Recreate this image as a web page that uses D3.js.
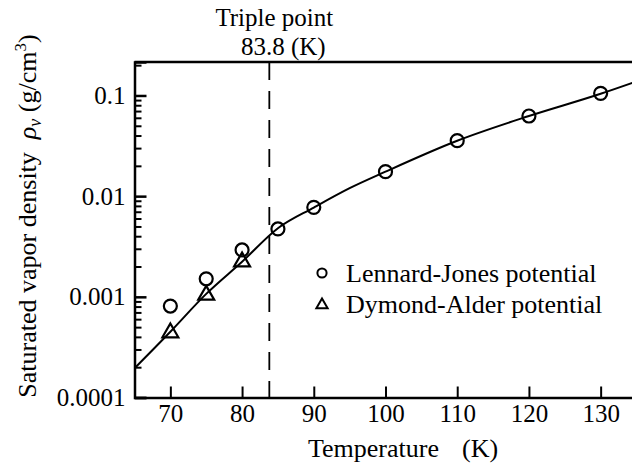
<html>
<head>
<meta http-equiv="Content-Type" content="text/html; charset=UTF-8" />
<script src="https://cdnjs.cloudflare.com/ajax/libs/d3/7.8.5/d3.min.js"></script>
<style type="text/css">
    body { margin: 0; background: #fff; }
    svg { display: block; }
</style>
</head>
<body>
<svg id="chart" width="632" height="463" font-family="Liberation Serif"></svg>
<script>

// values
var ljTemps = [70, 75, 80, 85, 90, 100, 110, 120, 130];
var ljRho   = [0.00081, 0.00151, 0.00292, 0.00472, 0.00774, 0.0175, 0.0356, 0.0625, 0.105];

var daTemps = [70, 75, 80];
var daRho   = [0.00044, 0.00104, 0.00223];

var curveTemps = [65, 70, 75, 80, 85, 90, 95, 100, 110, 120, 130, 135];
var curveRho   = [0.000195, 0.00045, 0.00107, 0.00223, 0.0048, 0.0077, 0.0120, 0.0175, 0.0355, 0.0625, 0.104, 0.138];

var xTicks = [70, 80, 90, 100, 110, 120, 130];
var yTicks = [0.0001, 0.001, 0.01, 0.1];
var yTickLabels = ["0.0001", "0.001", "0.01", "0.1"];

var triplePoint = 83.8;
var legendNames = ["Lennard-Jones potential", "Dymond-Alder potential"];

var width = 632, height = 463;
var serif = "font-family:'Liberation Serif';";

var svg = d3.select("#chart");

var x = d3.scaleLinear().domain([65, 135]).range([134.5, 636.5]);
var y = d3.scaleLog().domain([0.0001, 0.215]).range([397.5, 62]);

function styleTicks(g, size) {
    g.attr("font-family", "Liberation Serif").attr("font-size", size);
    g.selectAll("text").attr("fill", "#000").attr("style", serif + "font-size:" + size + "px");
}

// minor ticks for log axis
var yMinor = [];
yTicks.forEach(function(t) {
    for (var m = 2; m <= 9; m++) {
        var v = t * m;
        if (v < y.domain()[1]) yMinor.push(v);
    }
});

svg.append("g")
    .attr("transform", "translate(" + x.range()[0] + ",0)")
    .call(d3.axisLeft(y).tickValues(yMinor).tickSize(-7).tickFormat(""))
    .call(function(g) { g.selectAll("line").attr("stroke-width", 2); g.select(".domain").remove(); });

svg.append("g")
    .attr("transform", "translate(" + x.range()[0] + ",0)")
    .call(d3.axisLeft(y).tickValues(yTicks).tickSize(-12).tickPadding(9)
        .tickFormat(function(d, i) { return yTickLabels[i]; }))
    .call(function(g) {
        g.selectAll("line").attr("stroke-width", 2.5);
        g.select(".domain").attr("stroke-width", 2.5);
        styleTicks(g, 25);
    });

svg.append("g")
    .attr("transform", "translate(0," + y.range()[0] + ")")
    .call(d3.axisBottom(x).tickValues(xTicks).tickSize(-11).tickPadding(7).tickSizeOuter(0))
    .call(function(g) {
        g.selectAll("line").attr("stroke-width", 2);
        g.select(".domain").attr("stroke-width", 2.5);
        styleTicks(g, 25);
    });

// top frame line
svg.append("line")
    .attr("x1", x.range()[0]).attr("x2", width)
    .attr("y1", y.range()[1]).attr("y2", y.range()[1])
    .attr("stroke", "#000").attr("stroke-width", 2.5);

// triple point marker
svg.append("line")
    .attr("x1", x(triplePoint)).attr("x2", x(triplePoint))
    .attr("y1", y.range()[1]).attr("y2", y.range()[0])
    .attr("stroke", "#000").attr("stroke-width", 1.8)
    .attr("stroke-dasharray", "18,11");

svg.append("text")
    .attr("x", x(triplePoint) + 5).attr("y", 26)
    .attr("text-anchor", "middle")
    .attr("style", serif + "font-size:25px")
    .text("Triple point");

svg.append("text")
    .attr("x", x(triplePoint) + 14).attr("y", 55)
    .attr("text-anchor", "middle")
    .attr("style", serif + "font-size:25px")
    .text(triplePoint + " (K)");

// fitted curve
var line = d3.line()
    .x(function(d, i) { return x(curveTemps[i]); })
    .y(function(d) { return y(d); })
    .curve(d3.curveMonotoneX);

svg.append("path")
    .datum(curveRho)
    .attr("d", line)
    .attr("fill", "none")
    .attr("stroke", "#000")
    .attr("stroke-width", 2);

// Lennard-Jones circles
svg.selectAll("circle.lj")
    .data(ljRho)
    .enter().append("circle")
    .attr("class", "lj")
    .attr("cx", function(d, i) { return x(ljTemps[i]); })
    .attr("cy", function(d) { return y(d); })
    .attr("r", 6.5)
    .attr("fill", "none")
    .attr("stroke", "#000")
    .attr("stroke-width", 2.2);

// Dymond-Alder triangles
var tri = d3.symbol().type(d3.symbolTriangle).size(110);

svg.selectAll("path.da")
    .data(daRho)
    .enter().append("path")
    .attr("class", "da")
    .attr("d", tri)
    .attr("transform", function(d, i) { return "translate(" + x(daTemps[i]) + "," + y(d) + ")"; })
    .attr("fill", "none")
    .attr("stroke", "#000")
    .attr("stroke-width", 2.2);

// legend
var legend = svg.append("g").attr("transform", "translate(322,273)");

legend.append("circle")
    .attr("r", 4.6)
    .attr("fill", "none").attr("stroke", "#000").attr("stroke-width", 2);

legend.append("path")
    .attr("d", d3.symbol().type(d3.symbolTriangle).size(55))
    .attr("transform", "translate(0,32)")
    .attr("fill", "none").attr("stroke", "#000").attr("stroke-width", 2);

legend.selectAll("text")
    .data(legendNames)
    .enter().append("text")
    .attr("x", 24)
    .attr("y", function(d, i) { return 9 + i * 31; })
    .attr("style", serif + "font-size:26px")
    .text(function(d) { return d; });

// axis titles
var xt = svg.append("text")
    .attr("x", 308).attr("y", 457)
    .attr("style", serif + "font-size:26px");
xt.append("tspan").text("Temperature");
xt.append("tspan").attr("x", 462).text("(K)");

var yt = svg.append("text")
    .attr("transform", "translate(36,216) rotate(-90)")
    .attr("text-anchor", "middle")
    .attr("style", serif + "font-size:26px");
yt.append("tspan").text("Saturated vapor density\u00A0\u00A0");
yt.append("tspan").attr("style", "font-style:italic").text("\u03C1");
yt.append("tspan").attr("style", "font-style:italic;font-size:18px").attr("dy", 5).text("v");
yt.append("tspan").attr("dy", -5).text(" (g/cm");
yt.append("tspan").attr("style", "font-size:17px").attr("dy", -10).text("3");
yt.append("tspan").attr("dy", 10).text(")");

</script>
</body>
</html>
